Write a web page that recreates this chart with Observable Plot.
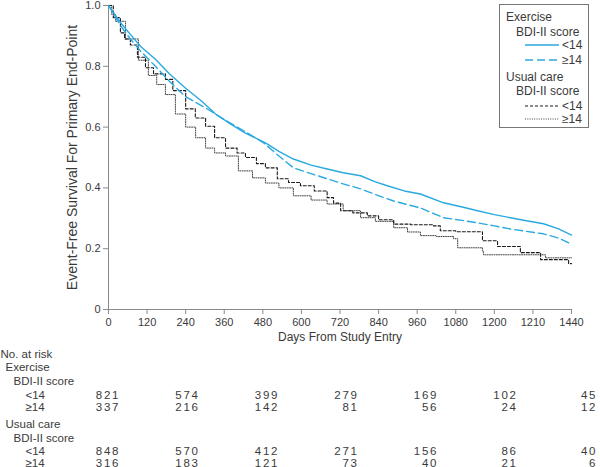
<!DOCTYPE html>
<html>
<head>
<meta charset="utf-8">
<script src="https://cdn.jsdelivr.net/npm/d3@7"></script>
<script src="https://cdn.jsdelivr.net/npm/@observablehq/plot@0.6"></script>
<style>
  body { margin: 0; background: white; }
  #wrap { position: relative; width: 600px; height: 467px; overflow: hidden; font-family: "Liberation Sans", Arial, sans-serif; }
  #wrap svg { display: block; }
  #legend { position: absolute; left: 0; top: 0; pointer-events: none; }
</style>
</head>
<body>
<div id="wrap"></div>
<script>
// ---------- data ----------
const xTicks = [0,120,240,360,480,600,720,840,960,1080,1200,1320,1440];
const xTickLabels = ["0","120","240","360","480","600","720","840","960","1080","1200","1210","1440"];
const yTicks = [0,0.2,0.4,0.6,0.8,1.0];

// Exercise, BDI-II < 14 (solid blue)
const exLowDays = [0,20,40,68,100,146,190,240,290,333,380,426,488,530,575,630,680,730,784,830,867,920,970,1042,1100,1148,1200,1250,1300,1353,1400,1440];
const exLowSurv = [1.0,0.97,0.94,0.905,0.865,0.823,0.775,0.728,0.685,0.643,0.61,0.58,0.548,0.52,0.495,0.475,0.462,0.45,0.44,0.42,0.407,0.39,0.38,0.351,0.337,0.325,0.312,0.302,0.292,0.282,0.265,0.245];

// Exercise, BDI-II >= 14 (dashed blue)
const exHighDays = [0,20,40,68,100,146,190,240,302,360,420,480,530,575,630,680,730,784,830,887,930,970,1042,1100,1148,1200,1250,1300,1353,1400,1440];
const exHighSurv = [1.0,0.965,0.93,0.89,0.85,0.80,0.75,0.70,0.663,0.625,0.588,0.55,0.505,0.466,0.447,0.43,0.413,0.397,0.378,0.357,0.345,0.334,0.302,0.293,0.285,0.275,0.265,0.257,0.249,0.235,0.215];

// Usual care, BDI-II < 14 (dashed black)
const ucLowDays = [0,15,37,50,68,90,115,140,177,200,240,270,302,330,364,400,426,460,488,525,560,597,640,680,700,722,760,805,840,887,940,1011,1032,1080,1126,1163,1210,1281,1344,1431,1440];
const ucLowSurv = [1.0,0.96,0.91,0.89,0.87,0.83,0.795,0.775,0.757,0.72,0.66,0.63,0.603,0.565,0.531,0.515,0.50,0.48,0.466,0.43,0.418,0.407,0.39,0.368,0.35,0.325,0.318,0.308,0.295,0.281,0.279,0.275,0.259,0.256,0.256,0.226,0.207,0.187,0.164,0.151,0.151];

// Usual care, BDI-II >= 14 (dotted)
const ucHighDays = [0,10,22,53,93,124,150,177,208,240,271,302,330,364,404,448,488,530,575,630,680,730,784,830,887,930,970,1020,1073,1086,1163,1166,1353,1359,1440];
const ucHighSurv = [1.0,0.97,0.948,0.89,0.82,0.77,0.74,0.707,0.643,0.60,0.565,0.531,0.515,0.505,0.456,0.433,0.416,0.40,0.374,0.36,0.347,0.325,0.302,0.29,0.269,0.255,0.243,0.24,0.233,0.203,0.193,0.18,0.18,0.17,0.17];

// Number at risk
const riskDays = [0,240,480,720,960,1200,1440];
const riskExLow = [821,574,399,279,169,102,45];
const riskExHigh = [337,216,142,81,56,24,12];
const riskUcLow = [848,570,412,271,156,86,40];
const riskUcHigh = [316,183,121,73,40,21,6];

// ---------- styles ----------
const BLUE = "#2aa9e0";
const TEXT = "#3a3a3a";
const AXIS = "#8a8a8a";
const FONT = "Liberation Sans, Arial, sans-serif";

const toRows = (days, surv) => days.map((d, i) => ({d, s: surv[i]}));

const wrap = document.getElementById("wrap");

const main = Plot.plot({
  width: 600,
  height: 345,
  marginLeft: 108,
  marginRight: 29,
  marginTop: 5,
  marginBottom: 36,
  style: {fontFamily: FONT, fontSize: "11px", color: TEXT, background: "white", overflow: "visible"},
  x: {domain: [0, 1440]},
  y: {domain: [0, 1]},
  marks: [
    Plot.axisX({ticks: xTicks, tickFormat: d => xTickLabels[xTicks.indexOf(d)], tickSize: 5, tickPadding: 4, stroke: AXIS, fill: TEXT, label: null}),
    Plot.axisY({ticks: yTicks, tickFormat: d => d === 0 ? "0" : d.toFixed(1), tickSize: 5, tickPadding: 3, stroke: AXIS, fill: TEXT, label: null}),
    Plot.ruleX([0], {stroke: AXIS}),
    Plot.ruleY([0], {stroke: AXIS}),
    Plot.line(toRows(ucHighDays, ucHighSurv), {x: "d", y: "s", stroke: "#444", strokeWidth: 1, strokeDasharray: "1,1.3", curve: "step-after"}),
    Plot.line(toRows(ucLowDays, ucLowSurv), {x: "d", y: "s", stroke: "#1a1a1a", strokeWidth: 1.1, strokeDasharray: "3,2", curve: "step-after"}),
    Plot.line(toRows(exHighDays, exHighSurv), {x: "d", y: "s", stroke: BLUE, strokeWidth: 1.4, strokeDasharray: "8,4"}),
    Plot.line(toRows(exLowDays, exLowSurv), {x: "d", y: "s", stroke: BLUE, strokeWidth: 1.4}),
    Plot.text(["Event-Free Survival For Primary End-Point"], {frameAnchor: "left", dx: -36, rotate: -90, textAnchor: "middle", lineAnchor: "middle", fontSize: 14, fill: TEXT}),
    Plot.text(["Days From Study Entry"], {frameAnchor: "bottom", dy: 28, textAnchor: "middle", lineAnchor: "middle", fontSize: 12, fill: TEXT})
  ]
});
wrap.appendChild(main);

// ---------- legend overlay ----------
const leg = d3.create("svg").attr("id", "legend").attr("width", 600).attr("height", 345)
  .style("font-family", FONT).style("font-size", "12px");
leg.append("rect").attr("x", 499.5).attr("y", 4.5).attr("width", 89).attr("height", 123)
  .attr("fill", "white").attr("stroke", "#777").attr("stroke-width", 1);
const legendItems = [
  {type: "title", text: "Exercise", x: 506, y: 17},
  {type: "title", text: "BDI-II score", x: 516, y: 32},
  {type: "item", text: "<14", y: 45, stroke: BLUE, dash: null, w: 1.4},
  {type: "item", text: "\u226514", y: 60, stroke: BLUE, dash: "8,4", w: 1.4},
  {type: "title", text: "Usual care", x: 506, y: 77},
  {type: "title", text: "BDI-II score", x: 516, y: 91},
  {type: "item", text: "<14", y: 106, stroke: "#1a1a1a", dash: "3,2", w: 1.1},
  {type: "item", text: "\u226514", y: 119, stroke: "#444", dash: "1,1.3", w: 1}
];
for (const it of legendItems) {
  if (it.type === "title") {
    leg.append("text").attr("x", it.x).attr("y", it.y).attr("dy", "0.35em").attr("fill", TEXT).text(it.text);
  } else {
    leg.append("line").attr("x1", 525).attr("x2", 559).attr("y1", it.y).attr("y2", it.y)
      .attr("stroke", it.stroke).attr("stroke-width", it.w).attr("stroke-dasharray", it.dash);
    leg.append("text").attr("x", 562).attr("y", it.y).attr("dy", "0.35em").attr("fill", TEXT).text(it.text);
  }
}
wrap.appendChild(leg.node());

// ---------- number at risk table ----------
const rowY = {head: 9, ex: 22, exBdi: 36, exLow: 50, exHigh: 62, uc: 79, ucBdi: 93, ucLow: 106, ucHigh: 118};
const labels = [
  {t: "No. at risk", indent: 0, y: rowY.head},
  {t: "Exercise", indent: 5, y: rowY.ex},
  {t: "BDI-II score", indent: 13, y: rowY.exBdi},
  {t: "<14", indent: 25, y: rowY.exLow},
  {t: "\u226514", indent: 25, y: rowY.exHigh},
  {t: "Usual care", indent: 5, y: rowY.uc},
  {t: "BDI-II score", indent: 13, y: rowY.ucBdi},
  {t: "<14", indent: 25, y: rowY.ucLow},
  {t: "\u226514", indent: 25, y: rowY.ucHigh}
];
const numRows = [
  ...riskDays.map((d, i) => ({d, n: riskExLow[i], y: rowY.exLow})),
  ...riskDays.map((d, i) => ({d, n: riskExHigh[i], y: rowY.exHigh})),
  ...riskDays.map((d, i) => ({d, n: riskUcLow[i], y: rowY.ucLow})),
  ...riskDays.map((d, i) => ({d, n: riskUcHigh[i], y: rowY.ucHigh}))
];
const indents = [0, 5, 13, 25];
const table = Plot.plot({
  width: 600,
  height: 122,
  margin: 0,
  style: {fontFamily: FONT, fontSize: "11.5px", color: TEXT, background: "white", overflow: "visible"},
  x: {domain: [0, 1440], range: [118, 595], axis: null},
  y: {domain: [0, 122], range: [0, 122], axis: null},
  marks: [
    ...indents.map(ind => Plot.text(labels.filter(l => l.indent === ind), {
      frameAnchor: "left", dx: ind, y: "y", text: "t", textAnchor: "start", lineAnchor: "middle", fill: TEXT, fontSize: 11.5
    })),
    Plot.text(numRows, {x: "d", y: "y", text: d => String(d.n), textAnchor: "end", lineAnchor: "middle", dx: 1.8, fill: TEXT, fontSize: 11.5,
      render: (index, scales, values, dims, ctx, next) => {
        const g = next(index, scales, values, dims, ctx);
        d3.select(g).selectAll("text").style("letter-spacing", "1.8px");
        return g;
      }})
  ]
});
wrap.appendChild(table);
</script>
</body>
</html>
